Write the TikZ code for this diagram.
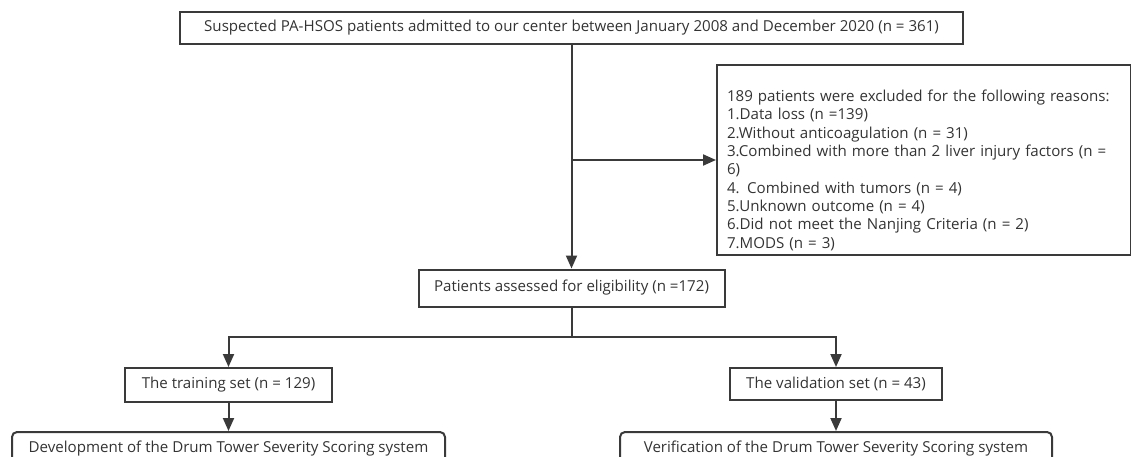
\documentclass[tikz,border=0pt]{standalone}
\usepackage{fontspec}
\setmainfont{Open Sans}
\usetikzlibrary{positioning, arrows.meta}
\definecolor{lineGray}{HTML}{3A3A3A}
\definecolor{textGray}{HTML}{333333}
\tikzset{
  box/.style={
    draw=lineGray, line width=2pt, rectangle,
    inner sep=0pt, text=textGray,
    font=\fontsize{15.1}{18.3}\selectfont
  },
  roundbox/.style={box, rounded corners=5pt},
  flow/.style={draw=lineGray, line width=2pt, -{Triangle[length=13pt, width=11pt]}},
  link/.style={draw=lineGray, line width=2pt},
}

\begin{document}
\begin{tikzpicture}[x=1pt, y=-1pt]
  \useasboundingbox (0,0) rectangle (1131,457);

  \node[box, minimum width=783pt, minimum height=32pt] (suspect) at (571.5,28)
    {Suspected PA-HSOS patients admitted to our center between January 2008 and December 2020 (n = 361)};

  \node[box, minimum width=414pt, minimum height=190pt,
        anchor=north west, align=left, text width=394pt] (excl) at (716,64)
    {\rule{0pt}{32pt}189 patients were excluded for the following reasons:\\
     1.Data loss (n =139)\\
     2.Without anticoagulation (n = 31)\\
     3.Combined with more than 2 liver injury factors (n =\\
     6)\\
     4. Combined with tumors (n = 4)\\
     5.Unknown outcome (n = 4)\\
     6.Did not meet the Nanjing Criteria (n = 2)\\
     7.MODS (n = 3)};

  \node[box, minimum width=306pt, minimum height=37pt] (assess) at (571.5,288)
    {Patients assessed for eligibility (n =172)};

  \node[box, minimum width=207pt, minimum height=34pt] (train) at (228.5,385)
    {The training set (n = 129)};
  \node[box, minimum width=212pt, minimum height=32pt] (valid) at (836,384)
    {The validation set (n = 43)};

  \node[roundbox, minimum width=433pt, minimum height=34pt, anchor=north] (develop) at (228.5,431)
    {Development of the Drum Tower Severity Scoring system};
  \node[roundbox, minimum width=432pt, minimum height=34pt, anchor=north] (verify) at (836,431)
    {Verification of the Drum Tower Severity Scoring system};

  % main stream
  \coordinate (branch) at (suspect.south |- excl.west);
  \coordinate (split) at (571.5,337);
  \draw[flow] (suspect.south) -- (assess.north);
  \draw[flow] (branch) -- (excl.west);

  % split into the two sets
  \draw[link] (assess.south) -- (split);
  \draw[flow] (split) -| (train.north);
  \draw[flow] (split) -| (valid.north);
  \draw[flow] (train) -- (develop);
  \draw[flow] (valid) -- (verify);
\end{tikzpicture}
\end{document}
